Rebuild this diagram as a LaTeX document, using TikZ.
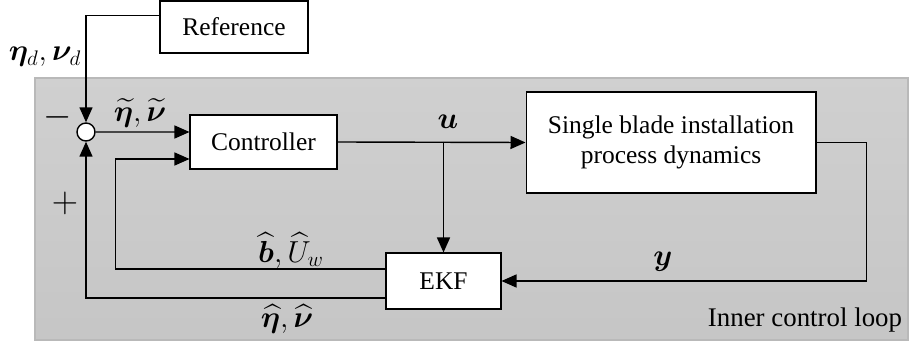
\documentclass[tikz,border=0pt]{standalone}
\usepackage{fontspec}
\setmainfont{Liberation Serif}
\usepackage{amsmath,bm}
\usetikzlibrary{arrows.meta, positioning}

\begin{document}
\begin{tikzpicture}[x=0.02cm, y=-0.02cm, >={Triangle[length=0.3cm,width=0.26cm]}, line width=0.8pt, font=\fontsize{14.5}{17}\selectfont]
	\tikzstyle{box} = [draw, rectangle, fill=white, line width=0.6pt, inner sep=0pt]
	\tikzstyle{lbl} = [inner sep=0pt, font=\fontsize{16.5}{19}\selectfont]
	\tikzstyle{sign} = [inner sep=0pt, font=\fontsize{20}{22}\selectfont]
	\useasboundingbox (0,0) rectangle (909,347);
	\shade[top color=gray!37, bottom color=gray!45, draw=gray!55, line width=0.6pt] (35,78) rectangle (908,340);
	\node[box, minimum width=2.96cm, minimum height=1.04cm] (ref) at (234,27) {Reference};
	\node[box, minimum width=2.94cm, minimum height=1.08cm] (ctrl) at (263.5,142) {Controller};
	\node[box, minimum width=5.8cm, minimum height=2.02cm, align=center] (proc) at (671,142.5) {Single blade installation\\process dynamics};
	\node[box, minimum width=2.3cm, minimum height=1.12cm] (ekf) at (443.5,281) {EKF};
	\node[draw, circle, fill=white, minimum size=0.36cm, inner sep=0pt] (sum) at (86,132) {};
	\path (ref.north west) ++(0,15) coordinate (refout);
	\coordinate (split) at (ctrl.east -| ekf.north);
	\draw[->] (refout) -| (sum.north);
	\draw[->] (sum.east) -- ([yshift=0.2cm]ctrl.west);
	\draw[->] (ctrl.east) -- (proc.west);
	\draw[->] (split) -- (ekf.north);
	\draw[->] (proc.east) -- ++(50,0) |- (ekf.east);
	\draw[->] ([yshift=0.24cm]ekf.west) -- ++(-270,0) |- ([yshift=-0.34cm]ctrl.west);
	\draw[->] ([yshift=-0.34cm]ekf.west) -| (sum.south);
	\node[lbl] (etad) at (45,57) {$\bm{\eta}_d,\bm{\nu}_d$};
	\node[sign] (minus) at (58,117) {$-$};
	\node[sign] (plus) at (65,203) {$+$};
	\node[lbl] (etat) at (140,113) {$\widetilde{\bm{\eta}},\widetilde{\bm{\nu}}$};
	\node[lbl] (ulbl) at (448,122) {$\bm{u}$};
	\node[lbl] (ylbl) at (663,262) {$\bm{y}$};
	\node[lbl] (blbl) at (291,250) {$\widehat{\bm{b}},\widehat{U}_w$};
	\node[lbl] (etah) at (287,319) {$\widehat{\bm{\eta}},\widehat{\bm{\nu}}$};
	\node[lbl, font=\fontsize{15.3}{18}\selectfont] (loop) at (805,320) {Inner control loop};
\end{tikzpicture}
\end{document}
